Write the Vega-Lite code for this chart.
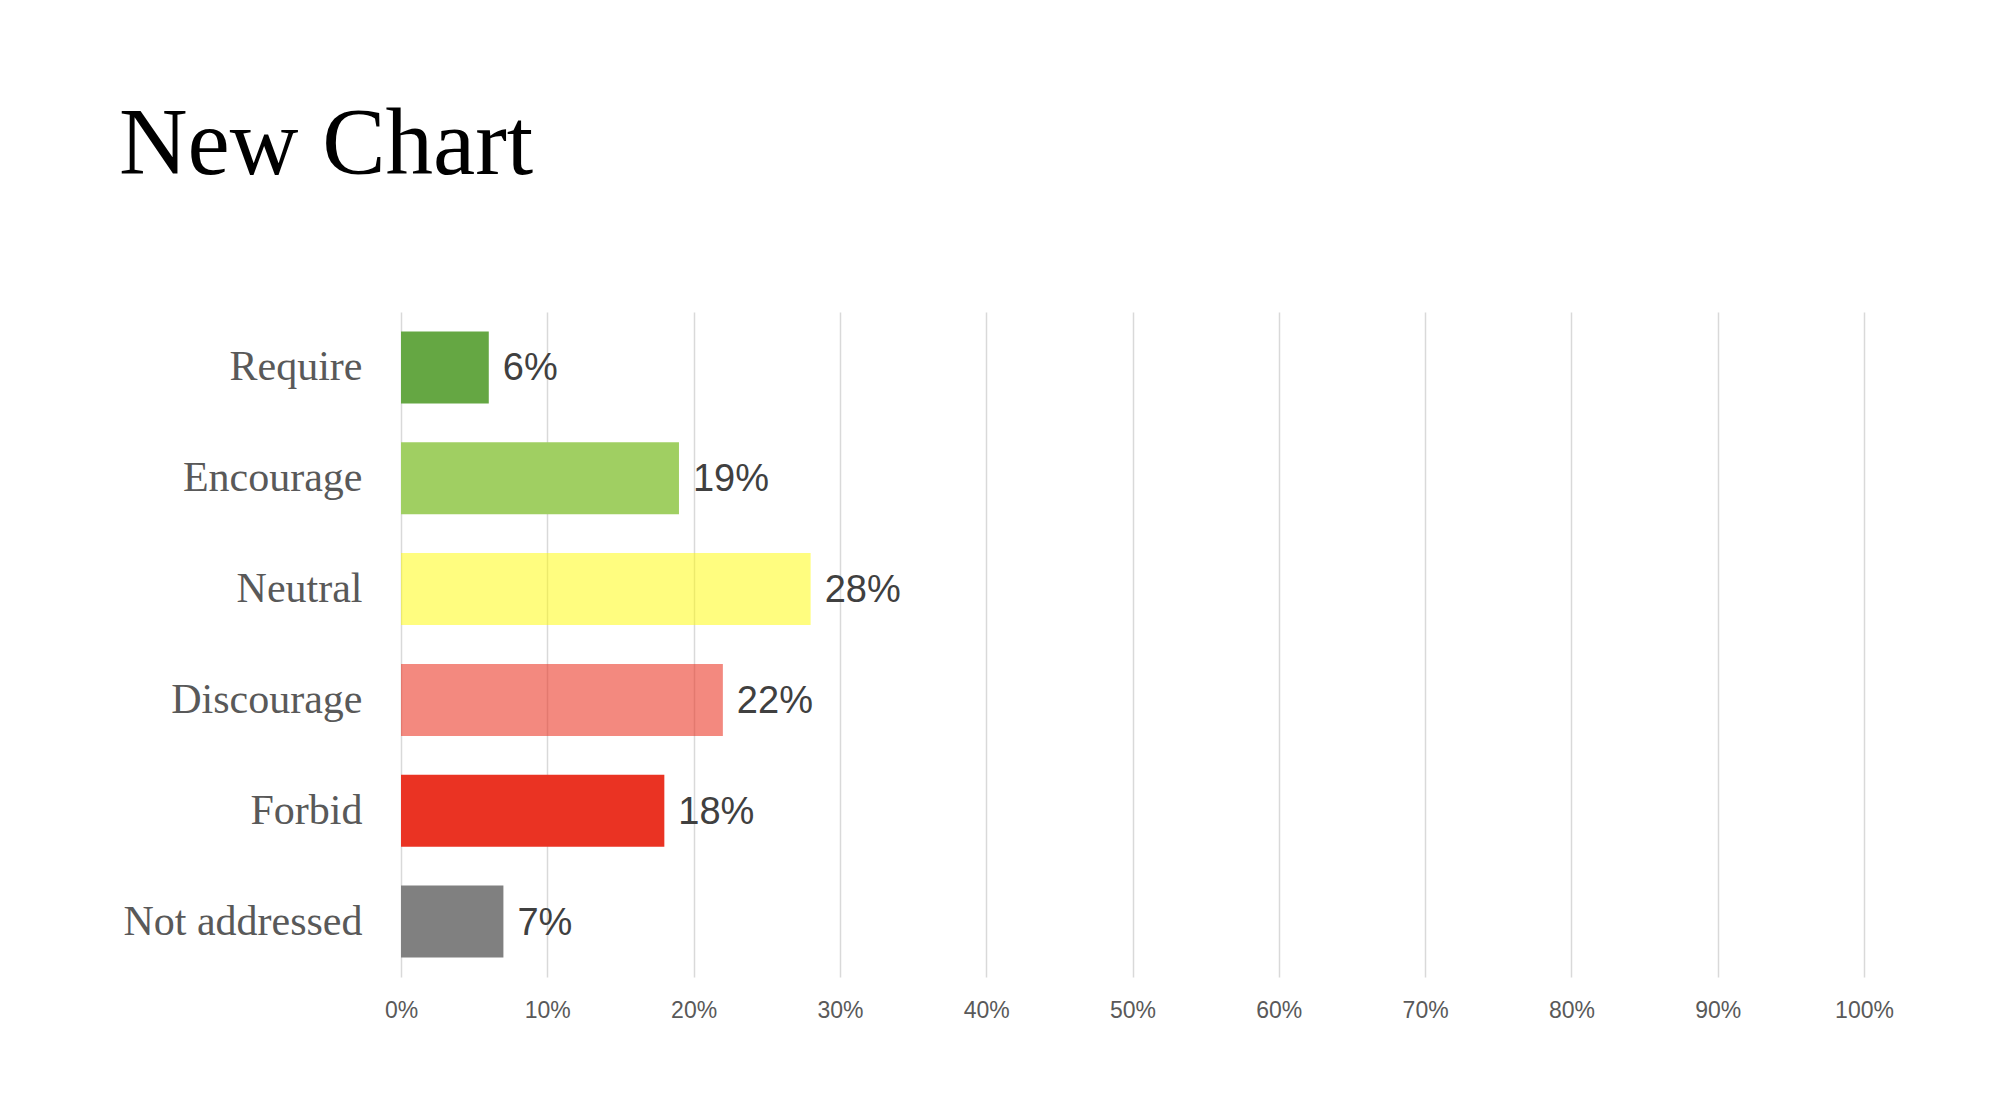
{
  "$schema": "https://vega.github.io/schema/vega-lite/v6.json",
  "autosize": "none",
  "width": 1463,
  "height": 665,
  "padding": {"left": 401, "top": 312, "right": 142, "bottom": 127},
  "background": "white",
  "title": {
    "text": "New Chart",
    "anchor": "start",
    "frame": "group",
    "dx": -282,
    "baseline": "alphabetic",
    "offset": 43,
    "font": "Liberation Serif",
    "fontSize": 95,
    "fontWeight": "normal",
    "color": "#000000"
  },
  "config": {"view": {"stroke": null}},
  "data": {
    "values": [
      {"category": "Require", "share": 0.06},
      {"category": "Encourage", "share": 0.19},
      {"category": "Neutral", "share": 0.28},
      {"category": "Discourage", "share": 0.22},
      {"category": "Forbid", "share": 0.18},
      {"category": "Not addressed", "share": 0.07}
    ]
  },
  "encoding": {
    "y": {
      "field": "category",
      "type": "nominal",
      "sort": ["Require", "Encourage", "Neutral", "Discourage", "Forbid", "Not addressed"],
      "scale": {"paddingInner": 0.35, "paddingOuter": 0.175},
      "axis": {
        "title": null,
        "domain": false,
        "ticks": false,
        "labelFont": "Liberation Serif",
        "labelFontSize": 42,
        "labelColor": "#595959",
        "labelPadding": 39,
        "labelLimit": 400
      }
    },
    "x": {
      "field": "share",
      "type": "quantitative",
      "scale": {"domain": [0, 1], "nice": false},
      "axis": {
        "title": null,
        "values": [0, 0.1, 0.2, 0.3, 0.4, 0.5, 0.6, 0.7, 0.8, 0.9, 1],
        "format": ".0%",
        "domain": false,
        "ticks": false,
        "grid": true,
        "gridColor": "#d9d9d9",
        "gridWidth": 1.5,
        "labelFlush": false,
        "labelOverlap": false,
        "labelFont": "Liberation Sans",
        "labelFontSize": 23,
        "labelColor": "#595959",
        "labelPadding": 22
      }
    }
  },
  "layer": [
    {
      "mark": {"type": "bar"},
      "encoding": {
        "color": {
          "field": "category",
          "type": "nominal",
          "scale": {
            "domain": ["Require", "Encourage", "Neutral", "Discourage", "Forbid", "Not addressed"],
            "range": ["#65a743", "#a0cf62", "#fffb00", "#ea3323", "#ea3323", "#808080"]
          },
          "legend": null
        },
        "opacity": {
          "condition": [
            {"test": "datum.category === 'Neutral'", "value": 0.5},
            {"test": "datum.category === 'Discourage'", "value": 0.58}
          ],
          "value": 1
        }
      }
    },
    {
      "mark": {
        "type": "text",
        "align": "left",
        "baseline": "middle",
        "dx": 14,
        "dy": 2,
        "font": "Liberation Sans",
        "fontSize": 38,
        "color": "#404040"
      },
      "encoding": {
        "text": {"field": "share", "type": "quantitative", "format": ".0%"}
      }
    }
  ]
}
